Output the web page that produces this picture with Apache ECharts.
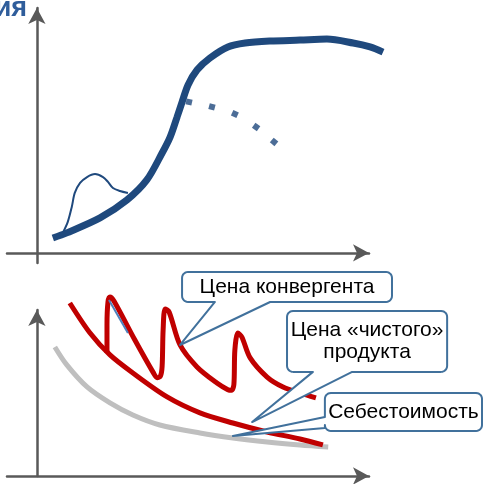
<!DOCTYPE html>
<html>
<head>
<meta charset="utf-8">
<script src="https://cdn.jsdelivr.net/npm/echarts@6/dist/echarts.min.js"></script>
<style>
  html, body { margin: 0; padding: 0; background: #fff; }
  #chart { width: 483px; height: 484px; }
</style>
</head>
<body>
<div id="chart"></div>
<script>
// Upper panel: adoption S-curve, early hump and the declining branch
const sCurveX = [0.48, 0.90, 1.90, 2.71, 3.31, 3.77, 4.01, 4.22, 4.37, 4.55, 4.82, 5.21, 5.75, 6.27, 7.02, 7.92, 8.73, 9.52, 10.03, 10.42];
const sCurveY = [0.61, 0.82, 1.43, 2.16, 2.98, 4.08, 4.73, 5.55, 6.16, 6.86, 7.47, 7.96, 8.41, 8.57, 8.65, 8.69, 8.73, 8.57, 8.41, 8.20];

const humpX = [0.78, 0.93, 1.05, 1.14, 1.30, 1.51, 1.75, 1.99, 2.14, 2.29, 2.50, 2.74];
const humpY = [0.82, 1.27, 1.88, 2.45, 2.86, 3.10, 3.22, 3.10, 2.90, 2.65, 2.53, 2.45];

const declineX = [4.58, 5.27, 5.96, 6.60, 7.14];
const declineY = [6.16, 5.96, 5.67, 5.14, 4.53];

// Lower panel: prices and cost over time
const costX = [0.54, 0.90, 1.51, 2.20, 2.89, 3.70, 4.91, 5.90, 6.93, 7.92, 8.77];
const costY = [7.77, 6.69, 5.36, 4.40, 3.67, 3.07, 2.59, 2.29, 2.05, 1.87, 1.75];

const purePriceX = [0.99, 1.60, 2.20, 2.89, 3.92, 4.91, 5.90, 6.93, 7.92, 8.61];
const purePriceY = [10.42, 8.61, 7.29, 6.20, 4.76, 3.80, 3.19, 2.65, 2.23, 1.87];

const convPriceX = [2.11, 2.11, 2.14, 2.20, 2.32, 2.95, 3.50, 3.62, 3.72, 3.77, 3.80, 3.86, 3.98, 4.31, 4.82, 5.42, 5.75, 5.86, 5.93, 5.96, 6.05, 6.17, 6.42, 6.93, 7.41, 7.92, 8.40];
const convPriceY = [7.41, 9.10, 10.48, 10.78, 10.54, 8.19, 6.24, 5.92, 6.02, 6.60, 8.80, 10.06, 9.88, 7.89, 6.57, 5.60, 5.20, 5.16, 5.50, 7.59, 8.61, 8.37, 7.11, 5.96, 5.36, 5.00, 4.70];

const strokeX = [2.17, 2.74];
const strokeY = [10.60, 8.61];

// Callout labels and the points they refer to
const calloutLabels = ['Цена конвергента', 'Цена «чистого»\nпродукта', 'Себестоимость'];
const calloutTargets = [[4.31, 7.89], [6.48, 3.25], [5.90, 2.41]];

const title = 'ия';

// ---- layout of the callout boxes (axis units of the lower panel) ----
const calloutLayout = [
  { box: [4.37, 12.29, 10.69, 10.48], edge: 'bottom', tail: [5.36, 7.02] },
  { box: [7.53, 9.94, 12.35, 6.27], edge: 'bottom', tail: [8.31, 9.49] },
  { box: [8.67, 5.00, 13.40, 2.71], edge: 'left', tail: [3.55, 2.89] }
];

const pair = (xs, ys) => xs.map((x, i) => [x, ys[i]]);

const BLUE = '#1f497d';
const RED = '#c00000';
const GREY = '#bfbfbf';
const AXIS = '#595959';
const FRAME = '#41719c';
const FONT = '"Liberation Sans", Arial, sans-serif';

// px per unit of each axis, used to orient the square dots along their path
const PX_X = 33.2, PX_Y_TOP = 24.5;

// Visible arrow axes
function arrowAxis(gridIndex, min, max) {
  return {
    type: 'value', gridIndex, min, max,
    axisLine: {
      show: true, onZero: true,
      symbol: ['none', 'arrow'], symbolSize: [13, 16],
      lineStyle: { color: AXIS, width: 2.5 }
    },
    axisTick: { show: false },
    axisLabel: { show: false },
    splitLine: { show: false }
  };
}
// Hidden axes of the plotting grids (same scale, a little more room for the curves)
function plotAxis(gridIndex, min, max) {
  return {
    type: 'value', gridIndex, min, max,
    axisLine: { show: false },
    axisTick: { show: false },
    axisLabel: { show: false },
    splitLine: { show: false }
  };
}

function corner(pts, cx, cy, r, a0, a1) {
  for (let k = 0; k <= 6; k++) {
    const a = a0 + (a1 - a0) * k / 6;
    pts.push([cx + r * Math.cos(a), cy + r * Math.sin(a)]);
  }
}

function renderCallout(params, api) {
  const i = params.dataIndex;
  const L = calloutLayout[i];
  const tip = api.coord([api.value(0), api.value(1)]);
  const p0 = api.coord([L.box[0], L.box[1]]);
  const p1 = api.coord([L.box[2], L.box[3]]);
  const x0 = p0[0], y0 = p0[1], x1 = p1[0], y1 = p1[1];
  const r = 6;
  const P = Math.PI;
  const pts = [];
  corner(pts, x0 + r, y0 + r, r, P, 1.5 * P);
  corner(pts, x1 - r, y0 + r, r, 1.5 * P, 2 * P);
  corner(pts, x1 - r, y1 - r, r, 0, 0.5 * P);
  if (L.edge === 'bottom') {
    const a = api.coord([L.tail[0], L.box[3]])[0];
    const b = api.coord([L.tail[1], L.box[3]])[0];
    pts.push([b, y1], tip, [a, y1]);
    corner(pts, x0 + r, y1 - r, r, 0.5 * P, P);
  } else {
    corner(pts, x0 + r, y1 - r, r, 0.5 * P, P);
    const a = api.coord([L.box[0], L.tail[0]])[1];
    const b = api.coord([L.box[0], L.tail[1]])[1];
    pts.push([x0, b], tip, [x0, a]);
  }
  return {
    type: 'group',
    children: [
      {
        type: 'polygon',
        shape: { points: pts },
        style: { fill: '#fff', stroke: FRAME, lineWidth: 2, lineJoin: 'round' }
      },
      {
        type: 'text',
        style: {
          text: calloutLabels[i],
          x: (x0 + x1) / 2,
          y: (y0 + y1) / 2,
          align: 'center',
          verticalAlign: 'middle',
          font: '21px ' + FONT,
          lineHeight: 22,
          fill: '#000'
        }
      }
    ]
  };
}

const declineData = pair(declineX, declineY);

const option = {
  animation: false,
  grid: [
    // arrow axes
    { left: 7, right: 114, top: 8, bottom: 221 },
    { left: 7, right: 114, top: 310, bottom: 8 },
    // plotting areas: x up to 10.6, lower panel y up to 10.9
    { left: 7, right: 94, top: 8, bottom: 221 },
    { left: 7, right: 94, top: 295, bottom: 8 }
  ],
  xAxis: [arrowAxis(0, -0.9, 10), arrowAxis(1, -0.9, 10), plotAxis(2, -0.9, 10.6), plotAxis(3, -0.9, 10.6)],
  yAxis: [arrowAxis(0, -0.41, 10), arrowAxis(1, 0, 10), plotAxis(2, -0.41, 10), plotAxis(3, 0, 10.9)],
  graphic: [{
    type: 'text',
    x: 27, y: 9,
    style: {
      text: title,
      font: 'bold 27px ' + FONT,
      fill: '#2f5d9b',
      align: 'right',
      verticalAlign: 'middle'
    }
  }],
  series: [
    {
      type: 'line', xAxisIndex: 2, yAxisIndex: 2, clip: false,
      data: pair(humpX, humpY), smooth: 0.3, showSymbol: false,
      lineStyle: { color: BLUE, width: 2 }, z: 2
    },
    {
      type: 'line', xAxisIndex: 2, yAxisIndex: 2, clip: false,
      data: pair(sCurveX, sCurveY), smooth: 0.3, showSymbol: false,
      lineStyle: { color: BLUE, width: 7, cap: 'butt' }, z: 3
    },
    {
      type: 'scatter', xAxisIndex: 2, yAxisIndex: 2,
      data: declineData, symbol: 'rect', symbolSize: 6,
      symbolRotate: (v, p) => {
        const i = p.dataIndex;
        const a = declineData[Math.max(0, i - 1)];
        const b = declineData[Math.min(declineData.length - 1, i + 1)];
        return Math.atan2((b[1] - a[1]) * PX_Y_TOP, (b[0] - a[0]) * PX_X) * 180 / Math.PI;
      },
      itemStyle: { color: BLUE }, z: 3
    },
    {
      type: 'line', xAxisIndex: 3, yAxisIndex: 3, clip: false,
      data: pair(costX, costY), smooth: 0.3, showSymbol: false,
      lineStyle: { color: GREY, width: 5 }, z: 2
    },
    {
      type: 'line', xAxisIndex: 3, yAxisIndex: 3, clip: false,
      data: pair(purePriceX, purePriceY), smooth: 0.3, showSymbol: false,
      lineStyle: { color: RED, width: 5 }, z: 3
    },
    {
      type: 'line', xAxisIndex: 3, yAxisIndex: 3, clip: false,
      data: pair(convPriceX, convPriceY), smooth: 0.3, showSymbol: false,
      lineStyle: { color: RED, width: 5 }, z: 3
    },
    {
      type: 'line', xAxisIndex: 3, yAxisIndex: 3, clip: false,
      data: pair(strokeX, strokeY), showSymbol: false,
      lineStyle: { color: '#4f81bd', width: 2 }, z: 4
    },
    {
      type: 'custom', xAxisIndex: 3, yAxisIndex: 3,
      data: calloutTargets,
      renderItem: renderCallout,
      z: 5
    }
  ]
};

const chart = echarts.init(document.getElementById('chart'));
chart.setOption(option);
</script>
</body>
</html>
